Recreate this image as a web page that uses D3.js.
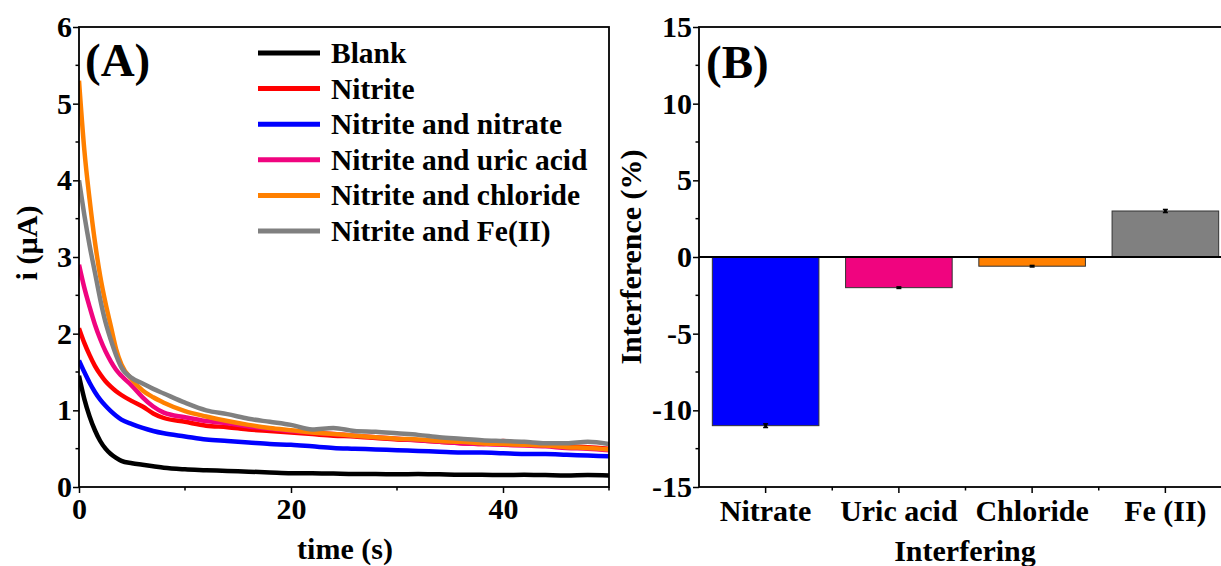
<!DOCTYPE html>
<html>
<head>
<meta charset="utf-8">
<script src="https://cdn.jsdelivr.net/npm/d3@7"></script>
<style>
  html, body { margin: 0; padding: 0; background: #fff; }
  svg { display: block; }
  text { font-family: "Liberation Serif", "Times New Roman", serif; font-weight: bold; fill: #000; }
</style>
</head>
<body>
<svg id="chart" width="1221" height="566"></svg>
<script>
// ---- Panel A: chronoamperometric current transients ----
const timeS = [0, 0.5, 1, 1.5, 2, 2.5, 3, 3.5, 4, 5, 6, 7, 8, 10, 12, 14, 16, 18, 20, 22, 24, 26, 28, 30, 32, 34, 36, 38, 40, 42, 44, 46, 48, 50];

const blank        = [1.45, 1.15, 0.92, 0.74, 0.60, 0.50, 0.43, 0.38, 0.34, 0.31, 0.29, 0.27, 0.25, 0.23, 0.22, 0.21, 0.20, 0.19, 0.18, 0.18, 0.175, 0.17, 0.17, 0.165, 0.17, 0.165, 0.16, 0.16, 0.155, 0.16, 0.155, 0.15, 0.155, 0.15];
const nitrite      = [2.07, 1.88, 1.72, 1.58, 1.47, 1.38, 1.31, 1.25, 1.20, 1.12, 1.05, 0.96, 0.90, 0.85, 0.80, 0.78, 0.75, 0.73, 0.71, 0.69, 0.67, 0.66, 0.64, 0.62, 0.61, 0.59, 0.57, 0.56, 0.60, 0.56, 0.55, 0.53, 0.52, 0.50];
const withNitrate  = [1.65, 1.50, 1.36, 1.24, 1.14, 1.06, 0.99, 0.93, 0.88, 0.82, 0.77, 0.73, 0.70, 0.66, 0.62, 0.60, 0.58, 0.56, 0.55, 0.53, 0.51, 0.50, 0.49, 0.48, 0.47, 0.46, 0.45, 0.45, 0.44, 0.43, 0.43, 0.42, 0.41, 0.40];
const withUric     = [2.90, 2.60, 2.35, 2.12, 1.93, 1.77, 1.64, 1.53, 1.45, 1.32, 1.17, 1.05, 0.97, 0.91, 0.86, 0.83, 0.79, 0.76, 0.73, 0.71, 0.69, 0.67, 0.65, 0.63, 0.61, 0.59, 0.57, 0.56, 0.55, 0.54, 0.53, 0.51, 0.50, 0.48];
const withChloride = [5.30, 4.40, 3.75, 3.20, 2.75, 2.40, 2.10, 1.80, 1.60, 1.40, 1.26, 1.17, 1.10, 0.99, 0.92, 0.86, 0.81, 0.77, 0.74, 0.71, 0.69, 0.67, 0.65, 0.63, 0.62, 0.60, 0.59, 0.57, 0.56, 0.55, 0.54, 0.52, 0.51, 0.49];
const withFe       = [4.00, 3.55, 3.15, 2.80, 2.45, 2.15, 1.92, 1.72, 1.56, 1.42, 1.35, 1.28, 1.22, 1.10, 1.00, 0.95, 0.89, 0.85, 0.81, 0.75, 0.77, 0.73, 0.72, 0.70, 0.68, 0.65, 0.63, 0.61, 0.60, 0.59, 0.57, 0.57, 0.59, 0.56];

const seriesNames  = ["Blank", "Nitrite", "Nitrite and nitrate", "Nitrite and uric acid", "Nitrite and chloride", "Nitrite and Fe(II)"];
const seriesValues = [blank, nitrite, withNitrate, withUric, withChloride, withFe];
const seriesColors = ["#000000", "#FF0000", "#0000FF", "#F0047F", "#FF8000", "#808080"];

const timeTicks    = [0, 20, 40];
const currentTicks = [0, 1, 2, 3, 4, 5, 6];

// ---- Panel B: interference percentages ----
const interferents  = ["Nitrate", "Uric acid", "Chloride", "Fe (II)"];
const interference  = [-11.0, -2.0, -0.6, 3.0];
const interferenceErr = [0.12, 0.05, 0.05, 0.1];
const barColors     = ["#0000FF", "#F0047F", "#FF8000", "#808080"];
const percentTicks  = [-15, -10, -5, 0, 5, 10, 15];

const TICK_FONT = 30;
const svg = d3.select("#chart");

// shared axis styling
function styleAxis(g) {
  g.select(".domain").remove();
  g.selectAll(".tick line").attr("stroke", "#000").attr("stroke-width", 1.5);
  g.selectAll(".tick text").style("font-size", TICK_FONT + "px");
}

// ================= Panel A =================
const xA = d3.scaleLinear().domain([0, 50]).range([79, 609]);
const yA = d3.scaleLinear().domain([0, 6]).range([487, 27]);

const gA = svg.append("g");

const line = d3.line()
  .x((d, i) => xA(timeS[i]))
  .y(d => yA(d))
  .curve(d3.curveMonotoneX);

gA.append("defs").append("clipPath").attr("id", "clipA")
  .append("rect").attr("x", xA(0)).attr("y", yA(6)).attr("width", xA(50) - xA(0)).attr("height", yA(0) - yA(6));

gA.append("g").attr("clip-path", "url(#clipA)")
  .selectAll("path.series")
  .data(seriesValues)
  .join("path")
  .attr("class", "series")
  .attr("fill", "none")
  .attr("stroke", (d, i) => seriesColors[i])
  .attr("stroke-width", 4.5)
  .attr("stroke-linejoin", "round")
  .attr("d", line);

// frame
gA.append("rect")
  .attr("x", xA(0)).attr("y", yA(6))
  .attr("width", xA(50) - xA(0)).attr("height", yA(0) - yA(6))
  .attr("fill", "none").attr("stroke", "#000").attr("stroke-width", 1.8);

const axisXA = d3.axisBottom(xA).tickValues(timeTicks).tickFormat(d => String(d)).tickSize(6).tickPadding(5);
const axisYA = d3.axisLeft(yA).tickValues(currentTicks).tickFormat(d => String(d)).tickSize(6).tickPadding(1);

const gxA = gA.append("g").attr("transform", `translate(0,${yA(0)})`).call(axisXA);
const gyA = gA.append("g").attr("transform", `translate(${xA(0)},0)`).call(axisYA);
styleAxis(gxA); styleAxis(gyA);

// minor ticks A
gA.append("g").selectAll("line")
  .data([10, 30, 50])
  .join("line")
  .attr("x1", d => xA(d)).attr("x2", d => xA(d))
  .attr("y1", yA(0)).attr("y2", yA(0) + 3.5)
  .attr("stroke", "#000").attr("stroke-width", 1.5);
gA.append("g").selectAll("line")
  .data([0.5, 1.5, 2.5, 3.5, 4.5, 5.5])
  .join("line")
  .attr("x1", xA(0) - 3.5).attr("x2", xA(0))
  .attr("y1", d => yA(d)).attr("y2", d => yA(d))
  .attr("stroke", "#000").attr("stroke-width", 1.5);

// axis titles
svg.append("text")
  .attr("x", 345).attr("y", 559)
  .attr("text-anchor", "middle")
  .style("font-size", "30px")
  .text("time (s)");
svg.append("text")
  .attr("transform", "translate(37,243) rotate(-90)")
  .attr("text-anchor", "middle")
  .style("font-size", "30px")
  .text("i (\u00B5A)");

// panel tag
svg.append("text").attr("x", 85).attr("y", 76).style("font-size", "47px").text("(A)");

// legend
const legend = gA.append("g");
seriesNames.forEach((name, i) => {
  const y = 53 + i * 35.6;
  legend.append("line")
    .attr("x1", 258).attr("x2", 320).attr("y1", y).attr("y2", y)
    .attr("stroke", seriesColors[i]).attr("stroke-width", 5);
  legend.append("text")
    .attr("x", 331).attr("y", y + 10)
    .style("font-size", "29.5px")
    .text(name);
});

// ================= Panel B =================
const xB = d3.scaleBand().domain(interferents).range([699, 1232]).paddingInner(0.2).paddingOuter(0.1);
const yB = d3.scaleLinear().domain([-15, 15]).range([487, 27]);

const gB = svg.append("g");

gB.selectAll("rect.bar")
  .data(interference)
  .join("rect")
  .attr("class", "bar")
  .attr("x", (d, i) => xB(interferents[i]))
  .attr("width", xB.bandwidth())
  .attr("y", d => yB(Math.max(0, d)))
  .attr("height", d => Math.abs(yB(d) - yB(0)))
  .attr("fill", (d, i) => barColors[i])
  .attr("stroke", "#333")
  .attr("stroke-width", 1);

// error bars
gB.selectAll("g.err")
  .data(interference)
  .join("g")
  .attr("class", "err")
  .each(function (d, i) {
    const cx = xB(interferents[i]) + xB.bandwidth() / 2;
    const e = interferenceErr[i];
    const g = d3.select(this);
    g.append("line")
      .attr("x1", cx).attr("x2", cx)
      .attr("y1", yB(d + e)).attr("y2", yB(d - e))
      .attr("stroke", "#000").attr("stroke-width", 3);
    [d + e, d - e].forEach(v => {
      g.append("line")
        .attr("x1", cx - 2.5).attr("x2", cx + 2.5)
        .attr("y1", yB(v)).attr("y2", yB(v))
        .attr("stroke", "#000").attr("stroke-width", 1.5);
    });
  });

// zero line
gB.append("line")
  .attr("x1", 699).attr("x2", 1232)
  .attr("y1", yB(0)).attr("y2", yB(0))
  .attr("stroke", "#000").attr("stroke-width", 2);

// frame
gB.append("rect")
  .attr("x", 699).attr("y", yB(15))
  .attr("width", 1232 - 699).attr("height", yB(-15) - yB(15))
  .attr("fill", "none").attr("stroke", "#000").attr("stroke-width", 1.8);

const axisYB = d3.axisLeft(yB).tickValues(percentTicks).tickFormat(d => String(d)).tickSize(6).tickPadding(1);
const gyB = gB.append("g").attr("transform", "translate(699,0)").call(axisYB);
styleAxis(gyB);

const axisXB = d3.axisBottom(xB).tickSize(6).tickPadding(7);
const gxB = gB.append("g").attr("transform", `translate(0,${yB(-15)})`).call(axisXB);
styleAxis(gxB);

// minor ticks B
gB.append("g").selectAll("line")
  .data(d3.range(-12.5, 15, 5))
  .join("line")
  .attr("x1", 699 - 3.5).attr("x2", 699)
  .attr("y1", d => yB(d)).attr("y2", d => yB(d))
  .attr("stroke", "#000").attr("stroke-width", 1.5);
gB.append("g").selectAll("line")
  .data(interferents.slice(1))
  .join("line")
  .attr("x1", d => xB(d) - xB.step() * 0.1).attr("x2", d => xB(d) - xB.step() * 0.1)
  .attr("y1", yB(-15)).attr("y2", yB(-15) + 3.5)
  .attr("stroke", "#000").attr("stroke-width", 1.5);

svg.append("text")
  .attr("x", 965).attr("y", 561)
  .attr("text-anchor", "middle")
  .style("font-size", "30px")
  .text("Interfering");
svg.append("text")
  .attr("transform", "translate(641,257) rotate(-90)")
  .attr("text-anchor", "middle")
  .style("font-size", "30px")
  .text("Interference (%)");

svg.append("text").attr("x", 706).attr("y", 78).style("font-size", "47px").text("(B)");
</script>
</body>
</html>
